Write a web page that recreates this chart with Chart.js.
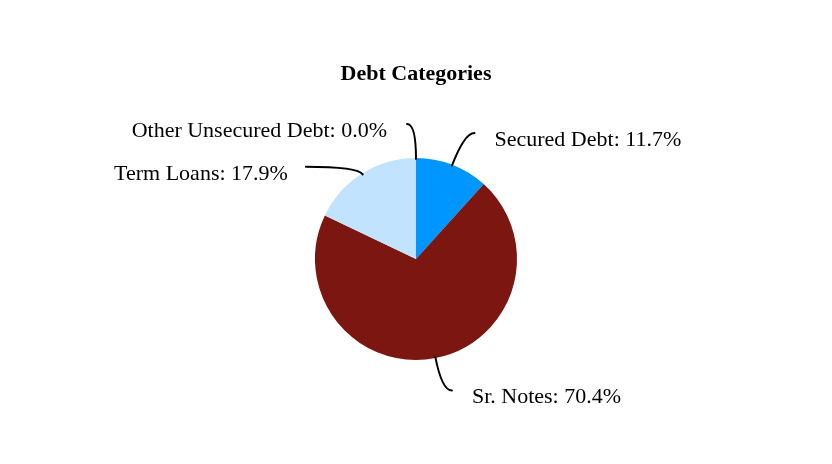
<!DOCTYPE html>
<html>
<head>
<meta charset="utf-8">
<script src="https://cdn.jsdelivr.net/npm/chart.js@4.4.1/dist/chart.umd.min.js"></script>
<style>
  html, body { margin: 0; padding: 0; background: #ffffff; }
  #wrap { width: 832px; height: 464px; }
</style>
</head>
<body>
<div id="wrap"><canvas id="c" width="832" height="464"></canvas></div>
<script>
const categories = ['Secured Debt', 'Sr. Notes', 'Term Loans', 'Other Unsecured Debt'];
const shares = [11.7, 70.4, 17.9, 0.0];
const sliceColors = ['#0096FF', '#7C1610', '#C2E3FE', '#8A8A8A'];
// leader-line styling per slice: radial extension, horizontal run, side (+1 right, -1 left), text gap
const leaderRadial = [34, 33, 8, 34];
const leaderRun = [10, 10, 52, 9];
const leaderSide = [1, 1, -1, -1];
const labelGap = [20, 20, 18, 20];

const FONT = "'Liberation Serif', 'Times New Roman', serif";

const leaderPlugin = {
  id: 'leaders',
  afterDatasetsDraw(chart) {
    const ctx = chart.ctx;
    const meta = chart.getDatasetMeta(0);
    const total = shares.reduce((a, b) => a + b, 0);
    ctx.save();
    ctx.strokeStyle = '#000000';
    ctx.lineWidth = 2;
    ctx.lineCap = 'round';
    ctx.fillStyle = '#000000';
    ctx.font = '22px ' + FONT;
    ctx.textBaseline = 'middle';
    meta.data.forEach((arc, i) => {
      const p = arc.getProps(['x', 'y', 'startAngle', 'endAngle', 'outerRadius'], true);
      const mid = (p.startAngle + p.endAngle) / 2;
      const dx = Math.cos(mid), dy = Math.sin(mid);
      const sx = p.x + dx * (p.outerRadius - 1), sy = p.y + dy * (p.outerRadius - 1);
      const ex = p.x + dx * (p.outerRadius + leaderRadial[i]);
      const ey = p.y + dy * (p.outerRadius + leaderRadial[i]);
      const side = leaderSide[i];
      const tx = ex + side * leaderRun[i];
      const ty = ey;
      ctx.beginPath();
      ctx.moveTo(sx, sy);
      ctx.quadraticCurveTo(ex, ey, tx, ty);
      ctx.stroke();
      const pct = (shares[i] / total * 100).toFixed(1);
      const text = categories[i] + ': ' + pct + '%';
      ctx.textAlign = side > 0 ? 'left' : 'right';
      ctx.fillText(text, tx + side * labelGap[i], ty + 7);
    });
    ctx.restore();
  }
};

new Chart(document.getElementById('c'), {
  type: 'pie',
  data: {
    labels: categories,
    datasets: [{
      data: shares,
      backgroundColor: sliceColors,
      borderWidth: 0,
      hoverOffset: 0,
      offset: 0
    }]
  },
  options: {
    responsive: false,
    animation: false,
    devicePixelRatio: 1,
    layout: { padding: { top: 0, bottom: 104, left: 0, right: 0 } },
    plugins: {
      legend: { display: false },
      tooltip: { enabled: false },
      title: {
        display: true,
        text: 'Debt Categories',
        color: '#000000',
        font: { family: FONT, size: 22, weight: 'bold', lineHeight: 1.2 },
        padding: { top: 61, bottom: 70.6 }
      }
    }
  },
  plugins: [leaderPlugin, {
    id: 'bg',
    beforeDraw(chart) {
      const ctx = chart.ctx;
      ctx.save();
      ctx.fillStyle = '#ffffff';
      ctx.fillRect(0, 0, chart.width, chart.height);
      ctx.restore();
    }
  }]
});
</script>
</body>
</html>
